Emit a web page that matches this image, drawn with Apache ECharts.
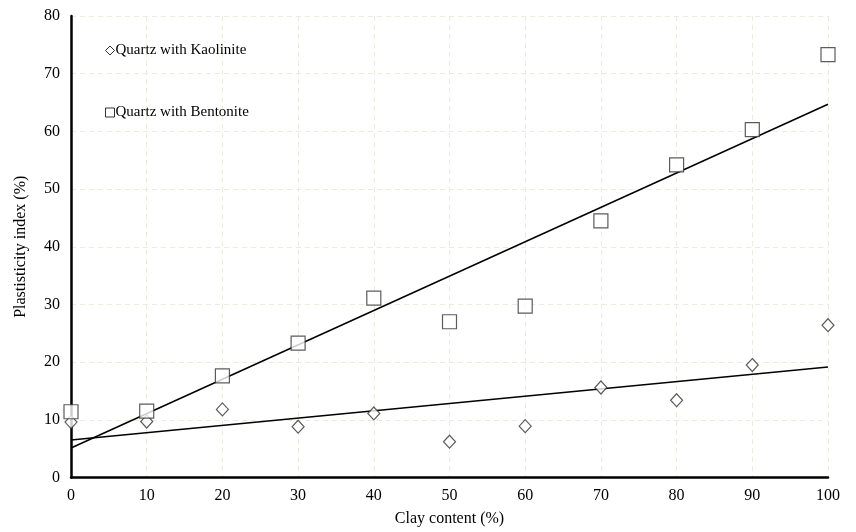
<!DOCTYPE html>
<html><head><meta charset="utf-8">
<script src="https://cdn.jsdelivr.net/npm/echarts@6/dist/echarts.min.js"></script>
<style>html,body{margin:0;padding:0;background:#fff}#c{width:856px;height:532px}</style>
</head><body><div id="c"></div>
<script>
const clayContent = [0, 10, 20, 30, 40, 50, 60, 70, 80, 90, 100];
const kaolinitePI = [9.6, 9.7, 11.8, 8.8, 11.1, 6.2, 8.9, 15.6, 13.4, 19.5, 26.4];
const bentonitePI = [11.4, 11.5, 17.6, 23.3, 31.1, 27.0, 29.7, 44.5, 54.2, 60.3, 73.3];
const seriesNames = ['Quartz with Kaolinite', 'Quartz with Bentonite'];

function linfit(xs, ys) {
  const n = xs.length;
  const mx = xs.reduce((a, b) => a + b, 0) / n;
  const my = ys.reduce((a, b) => a + b, 0) / n;
  let sxy = 0, sxx = 0;
  for (let i = 0; i < n; i++) { sxy += (xs[i] - mx) * (ys[i] - my); sxx += (xs[i] - mx) ** 2; }
  const b = sxy / sxx, a = my - b * mx;
  const x0 = xs[0], x1 = xs[n - 1];
  return [[x0, a + b * x0], [x1, a + b * x1]];
}
const pairs = ys => clayContent.map((x, i) => [x, ys[i]]);
const font = 'Liberation Serif, Times New Roman, serif';
const mk = { color: '#fff', borderColor: '#333', borderWidth: 1.2 };

const chart = echarts.init(document.getElementById('c'));
chart.setOption({
  animation: false,
  backgroundColor: '#fff',
  textStyle: { fontFamily: font },
  grid: { left: 71, right: 28, top: 16, bottom: 54.5 },
  legend: {
    left: 100, top: 38, orient: 'vertical', itemGap: 47,
    itemWidth: 9, itemHeight: 9,
    textStyle: { fontFamily: font, fontSize: 15, color: '#000', padding: [0, 0, 0, -4] },
    data: [
      { name: seriesNames[0], icon: 'diamond', itemStyle: { color: '#fff', borderColor: '#000', borderWidth: 1 } },
      { name: seriesNames[1], icon: 'rect', itemStyle: { color: '#fff', borderColor: '#000', borderWidth: 1 } }
    ]
  },
  xAxis: {
    type: 'value', min: 0, max: 100, interval: 10,
    name: 'Clay content (%)', nameLocation: 'middle', nameGap: 33,
    nameTextStyle: { fontFamily: font, fontSize: 16, color: '#000' },
    axisLine: { lineStyle: { color: '#000', width: 2.5 } },
    axisTick: { show: false },
    axisLabel: { fontFamily: font, fontSize: 16, color: '#000', margin: 10 },
    splitLine: { show: true, lineStyle: { color: '#ecebdf', type: [5, 4], width: 1 } }
  },
  yAxis: {
    type: 'value', min: 0, max: 80, interval: 10,
    name: 'Plastisticity index (%)', nameLocation: 'middle', nameGap: 42,
    nameTextStyle: { fontFamily: font, fontSize: 16, color: '#000' },
    axisLine: { show: true, lineStyle: { color: '#000', width: 2.5 } },
    axisTick: { show: false },
    axisLabel: { fontFamily: font, fontSize: 16, color: '#000', margin: 11 },
    splitLine: { show: true, lineStyle: { color: '#ecebdf', type: [5, 4], width: 1 } }
  },
  series: [
    { type: 'line', data: linfit(clayContent, kaolinitePI), showSymbol: false, symbol: 'none',
      lineStyle: { color: '#000', width: 1.5 }, z: 2, silent: true },
    { type: 'line', data: linfit(clayContent, bentonitePI), showSymbol: false, symbol: 'none',
      lineStyle: { color: '#000', width: 1.5 }, z: 2, silent: true },
    { name: seriesNames[0], type: 'scatter', data: pairs(kaolinitePI), symbol: 'diamond',
      symbolSize: [12, 13], itemStyle: mk, z: 3 },
    { name: seriesNames[1], type: 'scatter', data: pairs(bentonitePI), symbol: 'rect',
      symbolSize: 14, itemStyle: mk, z: 3 }
  ]
});
</script></body></html>
